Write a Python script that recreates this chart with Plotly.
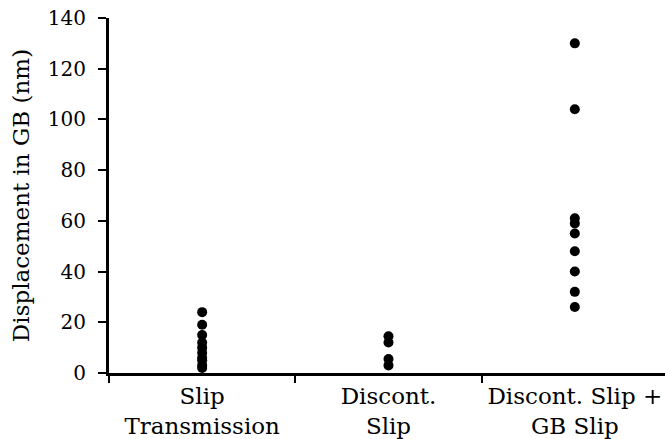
import plotly.graph_objects as go

categories = ["Slip<br>Transmission", "Discont.<br>Slip", "Discont. Slip +<br>GB Slip"]
slip_transmission = [24, 19, 15, 12, 10, 8, 6, 5, 3, 2]
discont_slip = [14.5, 12, 5.5, 3]
discont_gb_slip = [130, 104, 61, 59, 55, 48, 40, 32, 26]
y_ticks = [0, 20, 40, 60, 80, 100, 120, 140]

xs, ys = [], []
for cat, vals in zip(categories, [slip_transmission, discont_slip, discont_gb_slip]):
    xs += [cat] * len(vals)
    ys += vals

fig = go.Figure(go.Scatter(
    x=xs, y=ys, mode="markers",
    marker=dict(color="black", size=10),
    showlegend=False,
))

fam = "DejaVu Serif"
fig.update_layout(
    width=665, height=439,
    margin=dict(l=109, r=0, t=18, b=66, autoexpand=False),
    paper_bgcolor="white", plot_bgcolor="white",
    font=dict(family=fam, size=22, color="black"),
)
fig.update_xaxes(
    categoryorder="array", categoryarray=categories,
    range=[-0.5, 2.484], automargin=False,
    showline=True, linewidth=3, linecolor="black",
    ticks="outside", ticklen=7, tickwidth=2, tickcolor="black",
    tickson="boundaries", showgrid=False, zeroline=False,
    tickfont=dict(family=fam, size=23, color="black"),
)
fig.update_yaxes(
    range=[0, 140], tickvals=y_ticks, automargin=False,
    showline=True, linewidth=3, linecolor="black",
    ticks="outside", ticklen=8, tickwidth=2, tickcolor="black",
    ticklabelstandoff=8,
    showgrid=False, zeroline=False,
    tickfont=dict(family=fam, size=20, color="black"),
    title=dict(text="Displacement in GB (nm)",
               font=dict(family=fam, size=23, color="black"), standoff=12),
)
fig.write_html("out.html")
